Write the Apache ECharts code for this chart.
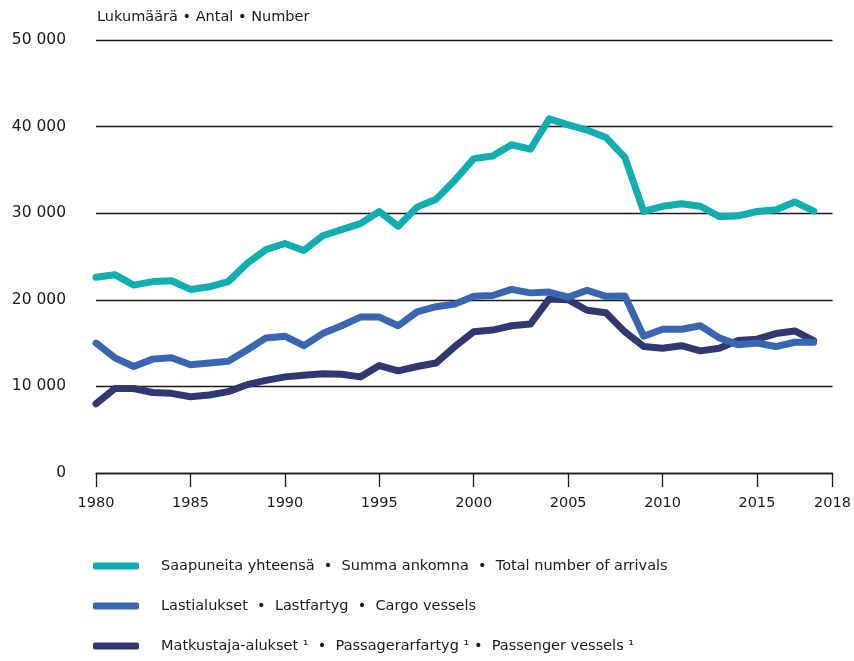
<!DOCTYPE html>
<html>
<head>
<meta charset="utf-8">
<script src="https://cdn.jsdelivr.net/npm/echarts@6/dist/echarts.min.js"></script>
<style>
html,body{margin:0;padding:0;background:#fff;}
#chart{width:854px;height:661px;}
</style>
</head>
<body>
<div id="chart"></div>
<script>
var years = [1980,1981,1982,1983,1984,1985,1986,1987,1988,1989,1990,1991,1992,1993,1994,1995,1996,1997,1998,1999,2000,2001,2002,2003,2004,2005,2006,2007,2008,2009,2010,2011,2012,2013,2014,2015,2016,2017,2018];
var totalArrivals = [22600,22900,21700,22100,22200,21200,21500,22100,24200,25800,26500,25700,27400,28100,28800,30200,28500,30700,31600,33800,36300,36600,37900,37400,40900,40200,39600,38750,36450,30200,30800,31100,30800,29600,29700,30200,30400,31300,30250];
var cargoVessels = [15000,13300,12300,13150,13300,12500,12700,12900,14200,15600,15800,14700,16100,17000,18000,18000,17000,18600,19200,19500,20400,20500,21200,20800,20900,20300,21100,20400,20450,15800,16600,16600,17000,15600,14800,15000,14600,15100,15100];
var passengerVessels = [8000,9760,9760,9300,9200,8800,9000,9400,10200,10700,11100,11300,11450,11400,11100,12400,11800,12300,12700,14600,16300,16500,17000,17200,20100,20000,18800,18500,16300,14600,14400,14700,14100,14400,15300,15450,16100,16400,15300];

var xTickValues = [1980,1985,1990,1995,2000,2005,2010,2015,2019];
var xTickLabels = ['1980','1985','1990','1995','2000','2005','2010','2015','2018'];
var yTickValues = [0,10000,20000,30000,40000,50000];

var seriesNames = {
  total: 'Saapuneita yhteensä  •  Summa ankomna  •  Total number of arrivals',
  cargo: 'Lastialukset  •  Lastfartyg  •  Cargo vessels',
  passenger: 'Matkustaja-alukset ¹  •  Passagerarfartyg ¹ •  Passenger vessels ¹'
};
var legendOrder = ['total','cargo','passenger'];
var colors = { total: '#10adb1', cargo: '#3866b0', passenger: '#303872' };

function pairs(vals){ return years.map(function(y,i){ return [y, vals[i]]; }); }
function fmtThousands(v){ return String(v).replace(/\B(?=(\d{3})+(?!\d))/g, ' '); }

var chart = echarts.init(document.getElementById('chart'), null, {renderer:'canvas'});
var font = 'DejaVu Sans';
function lineSeries(key, vals, z){
  return {
    name: seriesNames[key], type: 'line', data: pairs(vals), symbol: 'none', z: z,
    color: colors[key],
    lineStyle: { width: 7, color: colors[key], cap: 'round', join: 'round' },
    emphasis: { disabled: true }, animation: false
  };
}
var legends = legendOrder.map(function(key, i){
  return {
    orient: 'horizontal', left: 93, top: 556 + i * 40, itemWidth: 46, itemHeight: 7,
    icon: 'roundRect', selectedMode: false, padding: 0,
    data: [seriesNames[key]],
    textStyle: { fontFamily: font, fontSize: 14.5, color: '#1a1a1a', lineHeight: 20, padding: [0,0,0,17] }
  };
});
chart.setOption({
  animation: false,
  backgroundColor: '#fff',
  textStyle: { fontFamily: font },
  title: {
    text: 'Lukumäärä • Antal • Number', left: 92, top: 5,
    textStyle: { fontFamily: font, fontSize: 14.5, fontWeight: 'normal', color: '#1a1a1a' }
  },
  grid: { left: 96, right: 17, top: 40, bottom: 188, containLabel: false },
  legend: legends,
  xAxis: {
    type: 'value', min: 1980, max: 2019,
    axisLine: { show: true, lineStyle: { color: '#1a1a1a', width: 1.3 } },
    axisTick: { show: true, length: 14, customValues: xTickValues, lineStyle: { color: '#1a1a1a', width: 1.3 } },
    axisLabel: {
      customValues: xTickValues, margin: 23, fontFamily: font, fontSize: 14.5, color: '#1a1a1a',
      formatter: function(v){ var i = xTickValues.indexOf(v); return i >= 0 ? xTickLabels[i] : ''; }
    },
    splitLine: { show: false }
  },
  yAxis: {
    type: 'value', min: 0, max: 50000, interval: 10000,
    axisLine: { show: false }, axisTick: { show: false },
    axisLabel: { margin: 30, fontFamily: font, fontSize: 15.5, color: '#1a1a1a', formatter: function(v){ return yTickValues.indexOf(v) >= 0 ? fmtThousands(v) : ''; } },
    splitLine: { show: true, lineStyle: { color: '#1a1a1a', width: 1.3 } }
  },
  series: [
    lineSeries('total', totalArrivals, 3),
    lineSeries('passenger', passengerVessels, 4),
    lineSeries('cargo', cargoVessels, 5)
  ]
});
</script>
</body>
</html>
